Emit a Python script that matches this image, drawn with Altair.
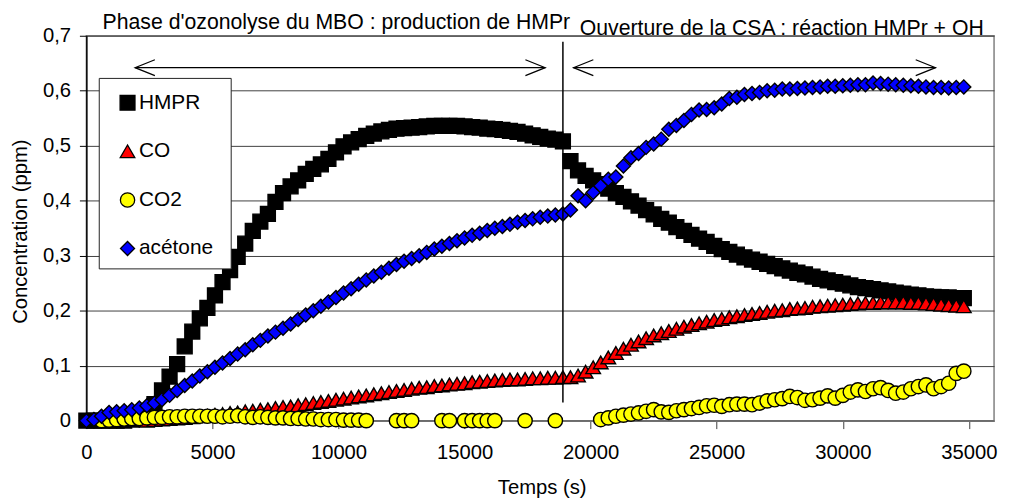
import altair as alt
import pandas as pd

# ---------------- data ----------------
TIMES = [0, 300, 600, 900, 1200, 1500, 1800, 2100, 2400, 2700,
         3000, 3300, 3600, 3900, 4200, 4500, 4800, 5100, 5400, 5700,
         6000, 6300, 6600, 6900, 7200, 7500, 7800, 8100, 8400, 8700,
         9000, 9300, 9600, 9900, 10200, 10500, 10800, 11100, 11400, 11700,
         12000, 12300, 12600, 12900, 13200, 13500, 13800, 14100, 14400, 14700,
         15000, 15300, 15600, 15900, 16200, 16500, 16800, 17100, 17400, 17700,
         18000, 18300, 18600, 18900, 19200, 19500, 19800, 20100, 20400, 20700,
         21000, 21300, 21600, 21900, 22200, 22500, 22800, 23100, 23400, 23700,
         24000, 24300, 24600, 24900, 25200, 25500, 25800, 26100, 26400, 26700,
         27000, 27300, 27600, 27900, 28200, 28500, 28800, 29100, 29400, 29700,
         30000, 30300, 30600, 30900, 31200, 31500, 31800, 32100, 32400, 32700,
         33000, 33300, 33600, 33900, 34200, 34500, 34800]

HMPR = [0.0, 0.0, 0.0, 0.0, 0.0, 0.0, 0.002, 0.006, 0.015, 0.03,
        0.055, 0.08, 0.103, 0.135, 0.162, 0.186, 0.205, 0.228, 0.252, 0.274,
        0.298, 0.322, 0.345, 0.362, 0.376, 0.398, 0.414, 0.426, 0.437, 0.449,
        0.458, 0.466, 0.476, 0.488, 0.499, 0.506, 0.512, 0.518, 0.522, 0.526,
        0.529, 0.531, 0.532, 0.533, 0.534, 0.535, 0.536, 0.536, 0.536, 0.536,
        0.535, 0.534, 0.533, 0.531, 0.530, 0.529, 0.527, 0.525, 0.522, 0.519,
        0.516, 0.513, 0.511, 0.508, 0.472, 0.455, 0.445, 0.437, 0.430, 0.422,
        0.414, 0.407, 0.399, 0.391, 0.383, 0.375, 0.367, 0.360, 0.352, 0.345,
        0.338, 0.331, 0.325, 0.318, 0.312, 0.307, 0.302, 0.297, 0.293, 0.289,
        0.285, 0.281, 0.277, 0.273, 0.269, 0.266, 0.262, 0.258, 0.255, 0.252,
        0.249, 0.246, 0.243, 0.241, 0.239, 0.237, 0.235, 0.233, 0.231, 0.229,
        0.228, 0.226, 0.225, 0.224, 0.224, 0.223, 0.223]

ACETONE = [0.0, 0.002, 0.008, 0.015, 0.016, 0.018, 0.02, 0.023, 0.027, 0.032,
           0.038, 0.046, 0.055, 0.064, 0.072, 0.081, 0.089, 0.097, 0.105, 0.113,
           0.121, 0.129, 0.138, 0.146, 0.154, 0.161, 0.168, 0.176, 0.184, 0.192,
           0.2, 0.208, 0.216, 0.224, 0.232, 0.24, 0.248, 0.256, 0.263, 0.27,
           0.277, 0.284, 0.29, 0.295, 0.3, 0.306, 0.312, 0.317, 0.322, 0.327,
           0.332, 0.337, 0.341, 0.346, 0.35, 0.353, 0.357, 0.361, 0.364, 0.367,
           0.37, 0.372, 0.374, 0.376, 0.383, 0.409, 0.40, 0.415, 0.427, 0.439,
           0.443, 0.463, 0.478, 0.486, 0.497, 0.503, 0.512, 0.53, 0.537, 0.546,
           0.557, 0.565, 0.566, 0.569, 0.576, 0.586, 0.588, 0.593, 0.595, 0.597,
           0.6, 0.601, 0.603, 0.603, 0.604, 0.605, 0.606, 0.607, 0.608, 0.608,
           0.609, 0.61, 0.611, 0.611, 0.614, 0.613, 0.612, 0.611, 0.61, 0.609,
           0.608, 0.607, 0.606, 0.606, 0.605, 0.606, 0.607]

CO_TIMES = TIMES[8:]
CO = [0.0, 0.001, 0.002, 0.003, 0.004, 0.005, 0.006, 0.008, 0.009, 0.011,
      0.012, 0.014, 0.015, 0.017, 0.018, 0.02, 0.021, 0.023, 0.025, 0.026,
      0.028, 0.03, 0.032, 0.034, 0.036, 0.038, 0.04, 0.042, 0.044, 0.046,
      0.048, 0.05, 0.052, 0.054, 0.056, 0.058, 0.06, 0.061, 0.063, 0.064,
      0.066, 0.067, 0.068, 0.07, 0.071, 0.072, 0.073, 0.074, 0.075, 0.075,
      0.076, 0.077, 0.077, 0.078, 0.078, 0.079, 0.079, 0.082, 0.089, 0.097,
      0.106, 0.115, 0.123, 0.131, 0.138, 0.144, 0.15, 0.155, 0.159, 0.163,
      0.167, 0.171, 0.174, 0.177, 0.18, 0.183, 0.185, 0.188, 0.19, 0.192,
      0.194, 0.196, 0.198, 0.2, 0.201, 0.203, 0.204, 0.205, 0.207, 0.208,
      0.209, 0.21, 0.211, 0.212, 0.213, 0.214, 0.214, 0.215, 0.215, 0.215,
      0.215, 0.214, 0.214, 0.213, 0.212, 0.211, 0.21, 0.209, 0.208]

CO2_TIMES = [600, 900, 1200, 1500, 1800, 2100, 2400, 2700, 3000, 3300,
             3600, 3900, 4200, 4500, 4800, 5100, 5400, 5700, 6000, 6300,
             6600, 6900, 7200, 7500, 7800, 8100, 8400, 8700, 9000, 9300,
             9600, 9900, 10200, 10500, 10800, 11100,
             12300, 12600, 12900, 14100, 14400, 15000, 15300, 15600, 15900, 16200,
             17400, 18600,
             20400, 20700, 21000, 21300, 21600, 21900, 22200, 22500, 22800, 23100,
             23400, 23700, 24000, 24300, 24600, 24900, 25200, 25500, 25800, 26100,
             26400, 26700, 27000, 27300, 27600, 27900, 28200, 28500, 28800, 29100,
             29400, 29700, 30000, 30300, 30600, 30900, 31200, 31500, 31800, 32100,
             32400, 32700, 33000, 33300, 33600, 33900, 34200, 34500, 34800]
CO2 = [0.0, 0.001, 0.002, 0.003, 0.004, 0.004, 0.005, 0.006, 0.006, 0.007,
       0.007, 0.008, 0.008, 0.008, 0.008, 0.008, 0.007, 0.008, 0.009, 0.007,
       0.006, 0.007, 0.006, 0.005, 0.005, 0.004, 0.004, 0.003, 0.003, 0.002,
       0.002, 0.002, 0.001, 0.001, 0.001, 0.0,
       0.0, 0.0, 0.0, 0.0, 0.0, 0.0, 0.0, 0.0, 0.0, 0.0,
       0.0, 0.0,
       0.002, 0.005, 0.008, 0.01, 0.012, 0.014, 0.017, 0.02, 0.016, 0.015,
       0.018, 0.02, 0.022, 0.024, 0.027, 0.028, 0.026, 0.029, 0.03, 0.03,
       0.029, 0.032, 0.036, 0.038, 0.04, 0.044, 0.042, 0.037, 0.038, 0.041,
       0.045, 0.041, 0.046, 0.052, 0.056, 0.053, 0.058, 0.06, 0.055, 0.05,
       0.052, 0.058, 0.062, 0.065, 0.058, 0.062, 0.068, 0.086, 0.09]

SERIES = ["HMPR", "CO", "CO2", "acétone"]
COLORS = ["#000000", "#FF0000", "#FFFF00", "#0000FF"]
SHAPES = ["square", "triangle-up", "circle", "diamond"]
SIZES = [225, 200, 195, 210]

X_DOMAIN = [0, 36000]
Y_DOMAIN = [0, 0.7]
X_TICKS = [0, 5000, 10000, 15000, 20000, 25000, 30000, 35000]
Y_TICKS = [0, 0.1, 0.2, 0.3, 0.4, 0.5, 0.6, 0.7]

PHASE_SPLIT = [18900]
SPLIT_Y = [0.033, 0.689]
ARROW_Y = 0.642
ARROW_STARTS = [1930, 19320]
ARROW_ENDS = [18200, 33680]
TITLE1 = ["Phase d'ozonolyse du MBO : production de HMPr"]
TITLE2 = ["Ouverture de la CSA : réaction HMPr + OH"]

FONT = "Liberation Sans"

# ---------------- table ----------------
rows = []
for t, v in zip(TIMES, HMPR):
    rows.append({"t": t, "c": v, "s": "HMPR"})
for t, v in zip(CO_TIMES, CO):
    rows.append({"t": t, "c": v, "s": "CO"})
for t, v in zip(CO2_TIMES, CO2):
    rows.append({"t": t, "c": v, "s": "CO2"})
for t, v in zip(TIMES, ACETONE):
    rows.append({"t": t, "c": v, "s": "acétone"})
df = pd.DataFrame(rows)

xscale = alt.Scale(domain=X_DOMAIN, nice=False, zero=False)
yscale = alt.Scale(domain=Y_DOMAIN, nice=False)

leg = alt.Legend(title=None, orient="none", legendX=31, legendY=57, padding=0,
                 labelFont=FONT, labelFontSize=21, labelColor="black",
                 symbolSize=235, symbolStrokeColor="black", symbolStrokeWidth=1.3,
                 rowPadding=27, labelOffset=1)

x_axis = alt.Axis(values=X_TICKS, format="d", title="Temps (s)", grid=False,
                  labelFlush=False, labelOverlap=False, labelBaseline="alphabetic",
                  labelPadding=30, tickSize=8, tickColor="#404040",
                  domainColor="#707070", domainWidth=1.5,
                  titleX=459, titleY=73.5, titleBaseline="alphabetic",
                  titleAlign="center")
y_axis = alt.Axis(values=Y_TICKS, title="Concentration (ppm)", grid=True,
                  gridColor="#404040", gridWidth=1,
                  labelExpr="datum.value == 0 ? '0' : replace(format(datum.value, '.1f'), '.', ',')",
                  labelFlush=False, labelOverlap=False, labelPadding=9, tickSize=7,
                  tickColor="black", domainColor="black", domainWidth=1.5,
                  titleX=-60, titleY=197, titleBaseline="alphabetic",
                  titleAlign="center", titleAngle=-90)

points = alt.Chart(df).mark_point(filled=True, stroke="black", strokeWidth=1.4, opacity=1).encode(
    x=alt.X("t:Q", scale=xscale, axis=x_axis),
    y=alt.Y("c:Q", scale=yscale, axis=y_axis),
    color=alt.Color("s:N", scale=alt.Scale(domain=SERIES, range=COLORS), legend=leg),
    shape=alt.Shape("s:N", scale=alt.Scale(domain=SERIES, range=SHAPES), legend=leg),
    size=alt.Size("s:N", scale=alt.Scale(domain=SERIES, range=SIZES), legend=None),
)

legend_box = alt.Chart(pd.DataFrame({"k": [0]})).mark_rect(
    fill="white", stroke="#222222", strokeWidth=1).encode(
    x=alt.value(13), x2=alt.value(146), y=alt.value(43), y2=alt.value(235))

split = alt.Chart(pd.DataFrame({"t": PHASE_SPLIT, "c": [SPLIT_Y[0]], "c2": [SPLIT_Y[1]]})).mark_rule(
    color="black", strokeWidth=1.5).encode(
    x=alt.X("t:Q", scale=xscale), y=alt.Y("c:Q", scale=yscale), y2="c2:Q")

arrows = alt.Chart(pd.DataFrame({"t": ARROW_STARTS, "t2": ARROW_ENDS,
                                 "c": [ARROW_Y, ARROW_Y]})).mark_rule(
    color="black", strokeWidth=1.2).encode(
    x=alt.X("t:Q", scale=xscale), x2="t2:Q", y=alt.Y("c:Q", scale=yscale))

heads_left = alt.Chart(pd.DataFrame({"t": ARROW_STARTS, "c": [ARROW_Y, ARROW_Y]})).mark_point(
    shape="M 2 -0.8 L 0 0 L 2 0.8", filled=False, size=400, color="black",
    strokeWidth=1.2, opacity=1).encode(
    x=alt.X("t:Q", scale=xscale), y=alt.Y("c:Q", scale=yscale))

heads_right = alt.Chart(pd.DataFrame({"t": ARROW_ENDS, "c": [ARROW_Y, ARROW_Y]})).mark_point(
    shape="M -2 -0.8 L 0 0 L -2 0.8", filled=False, size=400, color="black",
    strokeWidth=1.2, opacity=1).encode(
    x=alt.X("t:Q", scale=xscale), y=alt.Y("c:Q", scale=yscale))

title1 = alt.Chart(pd.DataFrame({"label": TITLE1})).mark_text(
    font=FONT, fontSize=21.4, color="black", align="center", baseline="alphabetic").encode(
    x=alt.value(252), y=alt.value(-7), text="label:N")

title2 = alt.Chart(pd.DataFrame({"label": TITLE2})).mark_text(
    font=FONT, fontSize=21.4, color="black", align="center", baseline="alphabetic").encode(
    x=alt.value(701), y=alt.value(-1), text="label:N")

chart = alt.layer(
    points, legend_box, split, arrows, heads_left, heads_right, title1, title2
).properties(
    width=915, height=388,
    padding={"left": 79, "top": 26, "right": 7, "bottom": 77},
    autosize=alt.AutoSizeParams(type="none"),
).configure_view(
    stroke="#808080", strokeWidth=1.5
).configure_axis(
    labelFont=FONT, titleFont=FONT, labelFontSize=20.4, titleFontSize=20.4,
    labelColor="black", titleColor="black", titleFontWeight="normal"
)

chart.save("out.html", embed_options={"renderer": "svg", "actions": False})
